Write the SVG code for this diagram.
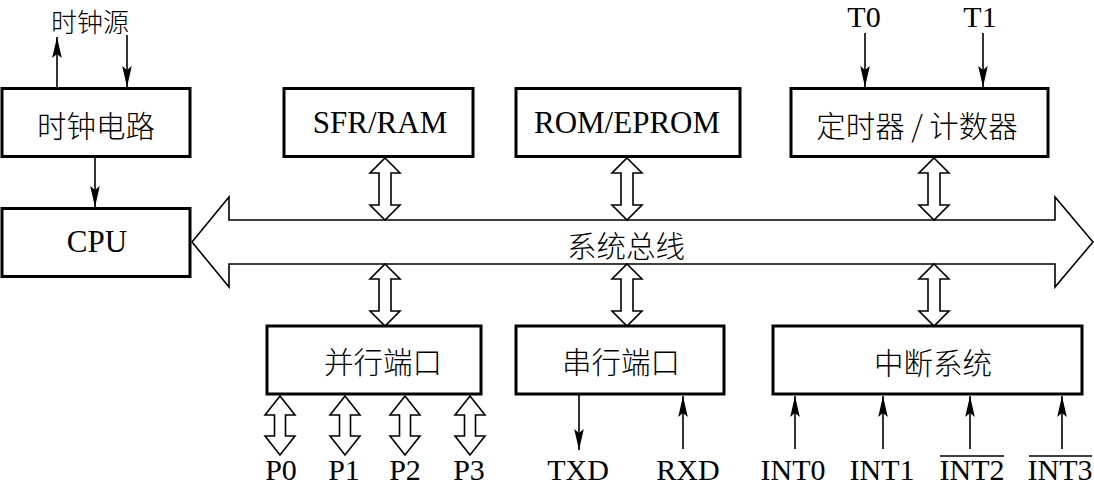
<svg xmlns="http://www.w3.org/2000/svg" width="1094" height="485" viewBox="0 0 1094 485">
<style>
.box{fill:#fff;stroke:#000;stroke-width:3}
.cn{font-family:"Noto Sans CJK SC","Noto Sans CJK JP",sans-serif;font-size:29.5px;font-weight:300;fill:#000;text-anchor:middle;dominant-baseline:central}
.en{font-family:"Liberation Serif","Times New Roman",serif;font-size:31px;fill:#000;text-anchor:middle}
.lb{font-family:"Liberation Serif","Times New Roman",serif;font-size:30px;fill:#000;text-anchor:middle}
.dbl{fill:#fff;stroke:#000;stroke-width:1.6;stroke-linejoin:miter}
.bus{fill:#fff;stroke:#000;stroke-width:1.6}
.ln{stroke:#000;stroke-width:1.6;fill:none}
</style>
<defs>
<marker id="ah" markerUnits="userSpaceOnUse" markerWidth="24" markerHeight="12" viewBox="-21 -6 22 12" refX="0" refY="0" orient="auto">
<path d="M0,0 L-21,-4.8 L-17,0 L-21,4.8 Z" fill="#000"/>
</marker>
<path id="dU" d="M0,0 L15,15 L6,15 L6,47 L15,47 L0,62 L-15,47 L-6,47 L-6,15 L-15,15 Z"/>
<path id="dP" d="M0,0 L15,19 L5.5,19 L5.5,40 L15,40 L0,59 L-15,40 L-5.5,40 L-5.5,19 L-15,19 Z"/>
</defs>

<g id="connectors">
<polygon class="bus" points="192,242 229,197 229,220 1055,220 1055,197 1093,242 1055,287 1055,264 229,264 229,287"/>
<text class="cn" x="626" y="244">系统总线</text>
<use href="#dU" class="dbl" x="385" y="158"/>
<use href="#dU" class="dbl" x="627" y="158"/>
<use href="#dU" class="dbl" x="934" y="158"/>
<use href="#dU" class="dbl" x="385" y="264"/>
<use href="#dU" class="dbl" x="627" y="264"/>
<use href="#dU" class="dbl" x="934" y="264"/>
<use href="#dP" class="dbl" x="280" y="396"/>
<use href="#dP" class="dbl" x="345" y="396"/>
<use href="#dP" class="dbl" x="405" y="396"/>
<use href="#dP" class="dbl" x="470" y="396"/>
<line class="ln" x1="57" y1="88" x2="57" y2="37" marker-end="url(#ah)"/>
<line class="ln" x1="127" y1="35" x2="127" y2="87" marker-end="url(#ah)"/>
<line class="ln" x1="95" y1="157" x2="95" y2="207" marker-end="url(#ah)"/>
<line class="ln" x1="865" y1="33" x2="865" y2="87" marker-end="url(#ah)"/>
<line class="ln" x1="983" y1="33" x2="983" y2="87" marker-end="url(#ah)"/>
<line class="ln" x1="579" y1="395" x2="579" y2="450" marker-end="url(#ah)"/>
<line class="ln" x1="683" y1="449" x2="683" y2="396" marker-end="url(#ah)"/>
<line class="ln" x1="795" y1="449" x2="795" y2="396" marker-end="url(#ah)"/>
<line class="ln" x1="883" y1="449" x2="883" y2="396" marker-end="url(#ah)"/>
<line class="ln" x1="970" y1="449" x2="970" y2="396" marker-end="url(#ah)"/>
<line class="ln" x1="1062" y1="449" x2="1062" y2="396" marker-end="url(#ah)"/>
</g>

<g id="clock-source"><text class="cn" x="90" y="20" style="font-size:26px">时钟源</text></g>
<g id="clock"><rect class="box" x="2" y="88.5" width="188" height="68"/><text class="cn" x="96" y="124">时钟电路</text></g>
<g id="cpu"><rect class="box" x="2" y="208.5" width="188" height="68"/><text class="en" x="97" y="252">CPU</text></g>
<g id="sfr"><rect class="box" x="284" y="88.5" width="189" height="68"/><text class="en" x="380" y="133">SFR/RAM</text></g>
<g id="rom"><rect class="box" x="516" y="88.5" width="224" height="68"/><text class="en" x="627" y="133">ROM/EPROM</text></g>
<g id="timer"><rect class="box" x="791" y="88.5" width="257" height="68"/><text class="cn" x="917" y="124">定时器 / 计数器</text></g>
<g id="parallel"><rect class="box" x="267" y="326" width="214" height="68"/><text class="cn" x="383" y="360">并行端口</text></g>
<g id="serial"><rect class="box" x="516" y="326" width="208" height="68"/><text class="cn" x="621" y="360">串行端口</text></g>
<g id="interrupt"><rect class="box" x="773" y="326" width="309" height="68"/><text class="cn" x="933" y="361">中断系统</text></g>

<g id="labels">
<text class="lb" x="864" y="27">T0</text>
<text class="lb" x="980" y="27">T1</text>
<text class="lb" x="281" y="480">P0</text>
<text class="lb" x="344" y="480">P1</text>
<text class="lb" x="405" y="480">P2</text>
<text class="lb" x="469" y="480">P3</text>
<text class="lb" x="578" y="480">TXD</text>
<text class="lb" x="688" y="480">RXD</text>
<text class="lb" x="793" y="480">INT0</text>
<text class="lb" x="882" y="480">INT1</text>
<text class="lb" x="972" y="480">INT2</text>
<text class="lb" x="1060" y="480">INT3</text>
<line class="ln" x1="940" y1="456" x2="1004" y2="456"/>
<line class="ln" x1="1029" y1="456" x2="1092" y2="456"/>
</g>
</svg>
